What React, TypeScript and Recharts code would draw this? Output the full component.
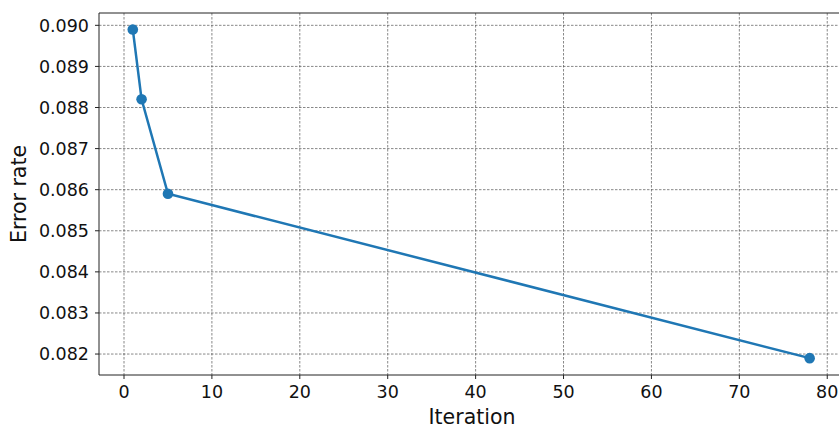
import React from "react";
import {
  LineChart,
  Line,
  XAxis,
  YAxis,
  CartesianGrid,
  ReferenceLine,
  Label,
} from "recharts";

const iterations = [1, 2, 5, 78];
const errorRates = [0.0899, 0.0882, 0.0859, 0.0819];
const xTicks = [0, 10, 20, 30, 40, 50, 60, 70, 80];
const yTicks = [0.082, 0.083, 0.084, 0.085, 0.086, 0.087, 0.088, 0.089, 0.09];

const data = iterations.map((it, i) => ({ iteration: it, error: errorRates[i] }));

// axis limits as matplotlib drew them; the right edge falls outside the crop
const X_MIN = -2.844;
const X_MAX = 82.02;
const Y_MIN = 0.08149;
const Y_MAX = 0.0903;

const W = 839;
const H = 429;
const CHART_W = 845; // a little wider than the frame, so the right spine is cut off
const FONT = "'DejaVu Sans', sans-serif";
const BLUE = "#1f77b4";

const App: React.FC = () => (
  <div
    style={{
      position: "absolute",
      left: 0,
      top: 0,
      width: W,
      height: H,
      overflow: "hidden",
      background: "#fff",
    }}
  >
    <LineChart
      width={CHART_W}
      height={H}
      data={data}
      margin={{ top: 13, right: 0, left: 9, bottom: 0 }}
    >
      <CartesianGrid
        stroke="#555"
        strokeWidth={0.7}
        strokeDasharray="2.5 1.5"
        horizontalValues={yTicks}
        verticalValues={xTicks}
      />
      <XAxis
        dataKey="iteration"
        type="number"
        domain={[X_MIN, X_MAX]}
        ticks={xTicks}
        allowDataOverflow
        height={54}
        stroke="#222"
        tickLine={{ stroke: "#222" }}
        tickSize={4}
        tickMargin={7}
        tick={{ fill: "#111", fontSize: 17.5, fontFamily: FONT }}
      >
        <Label
          value="Iteration"
          position="insideBottom"
          offset={5}
          style={{ fill: "#111", fontSize: 20.5, fontFamily: FONT }}
        />
      </XAxis>
      <YAxis
        type="number"
        domain={[Y_MIN, Y_MAX]}
        ticks={yTicks}
        allowDataOverflow
        width={90}
        stroke="#222"
        tickLine={{ stroke: "#222" }}
        tickSize={4}
        tickMargin={6}
        tickFormatter={(v: number) => v.toFixed(3)}
        tick={{ fill: "#111", fontSize: 17.5, fontFamily: FONT }}
      >
        <Label
          value="Error rate"
          angle={-90}
          position="insideLeft"
          offset={10}
          style={{ fill: "#111", fontSize: 20.5, fontFamily: FONT, textAnchor: "middle" }}
        />
      </YAxis>
      {/* top spine */}
      <ReferenceLine y={Y_MAX} stroke="#222" strokeWidth={1} />
      <Line
        dataKey="error"
        stroke={BLUE}
        strokeWidth={2.5}
        dot={{ r: 5.3, fill: BLUE, stroke: BLUE, strokeWidth: 0 }}
        activeDot={false}
        isAnimationActive={false}
      />
    </LineChart>
  </div>
);

export default App;
